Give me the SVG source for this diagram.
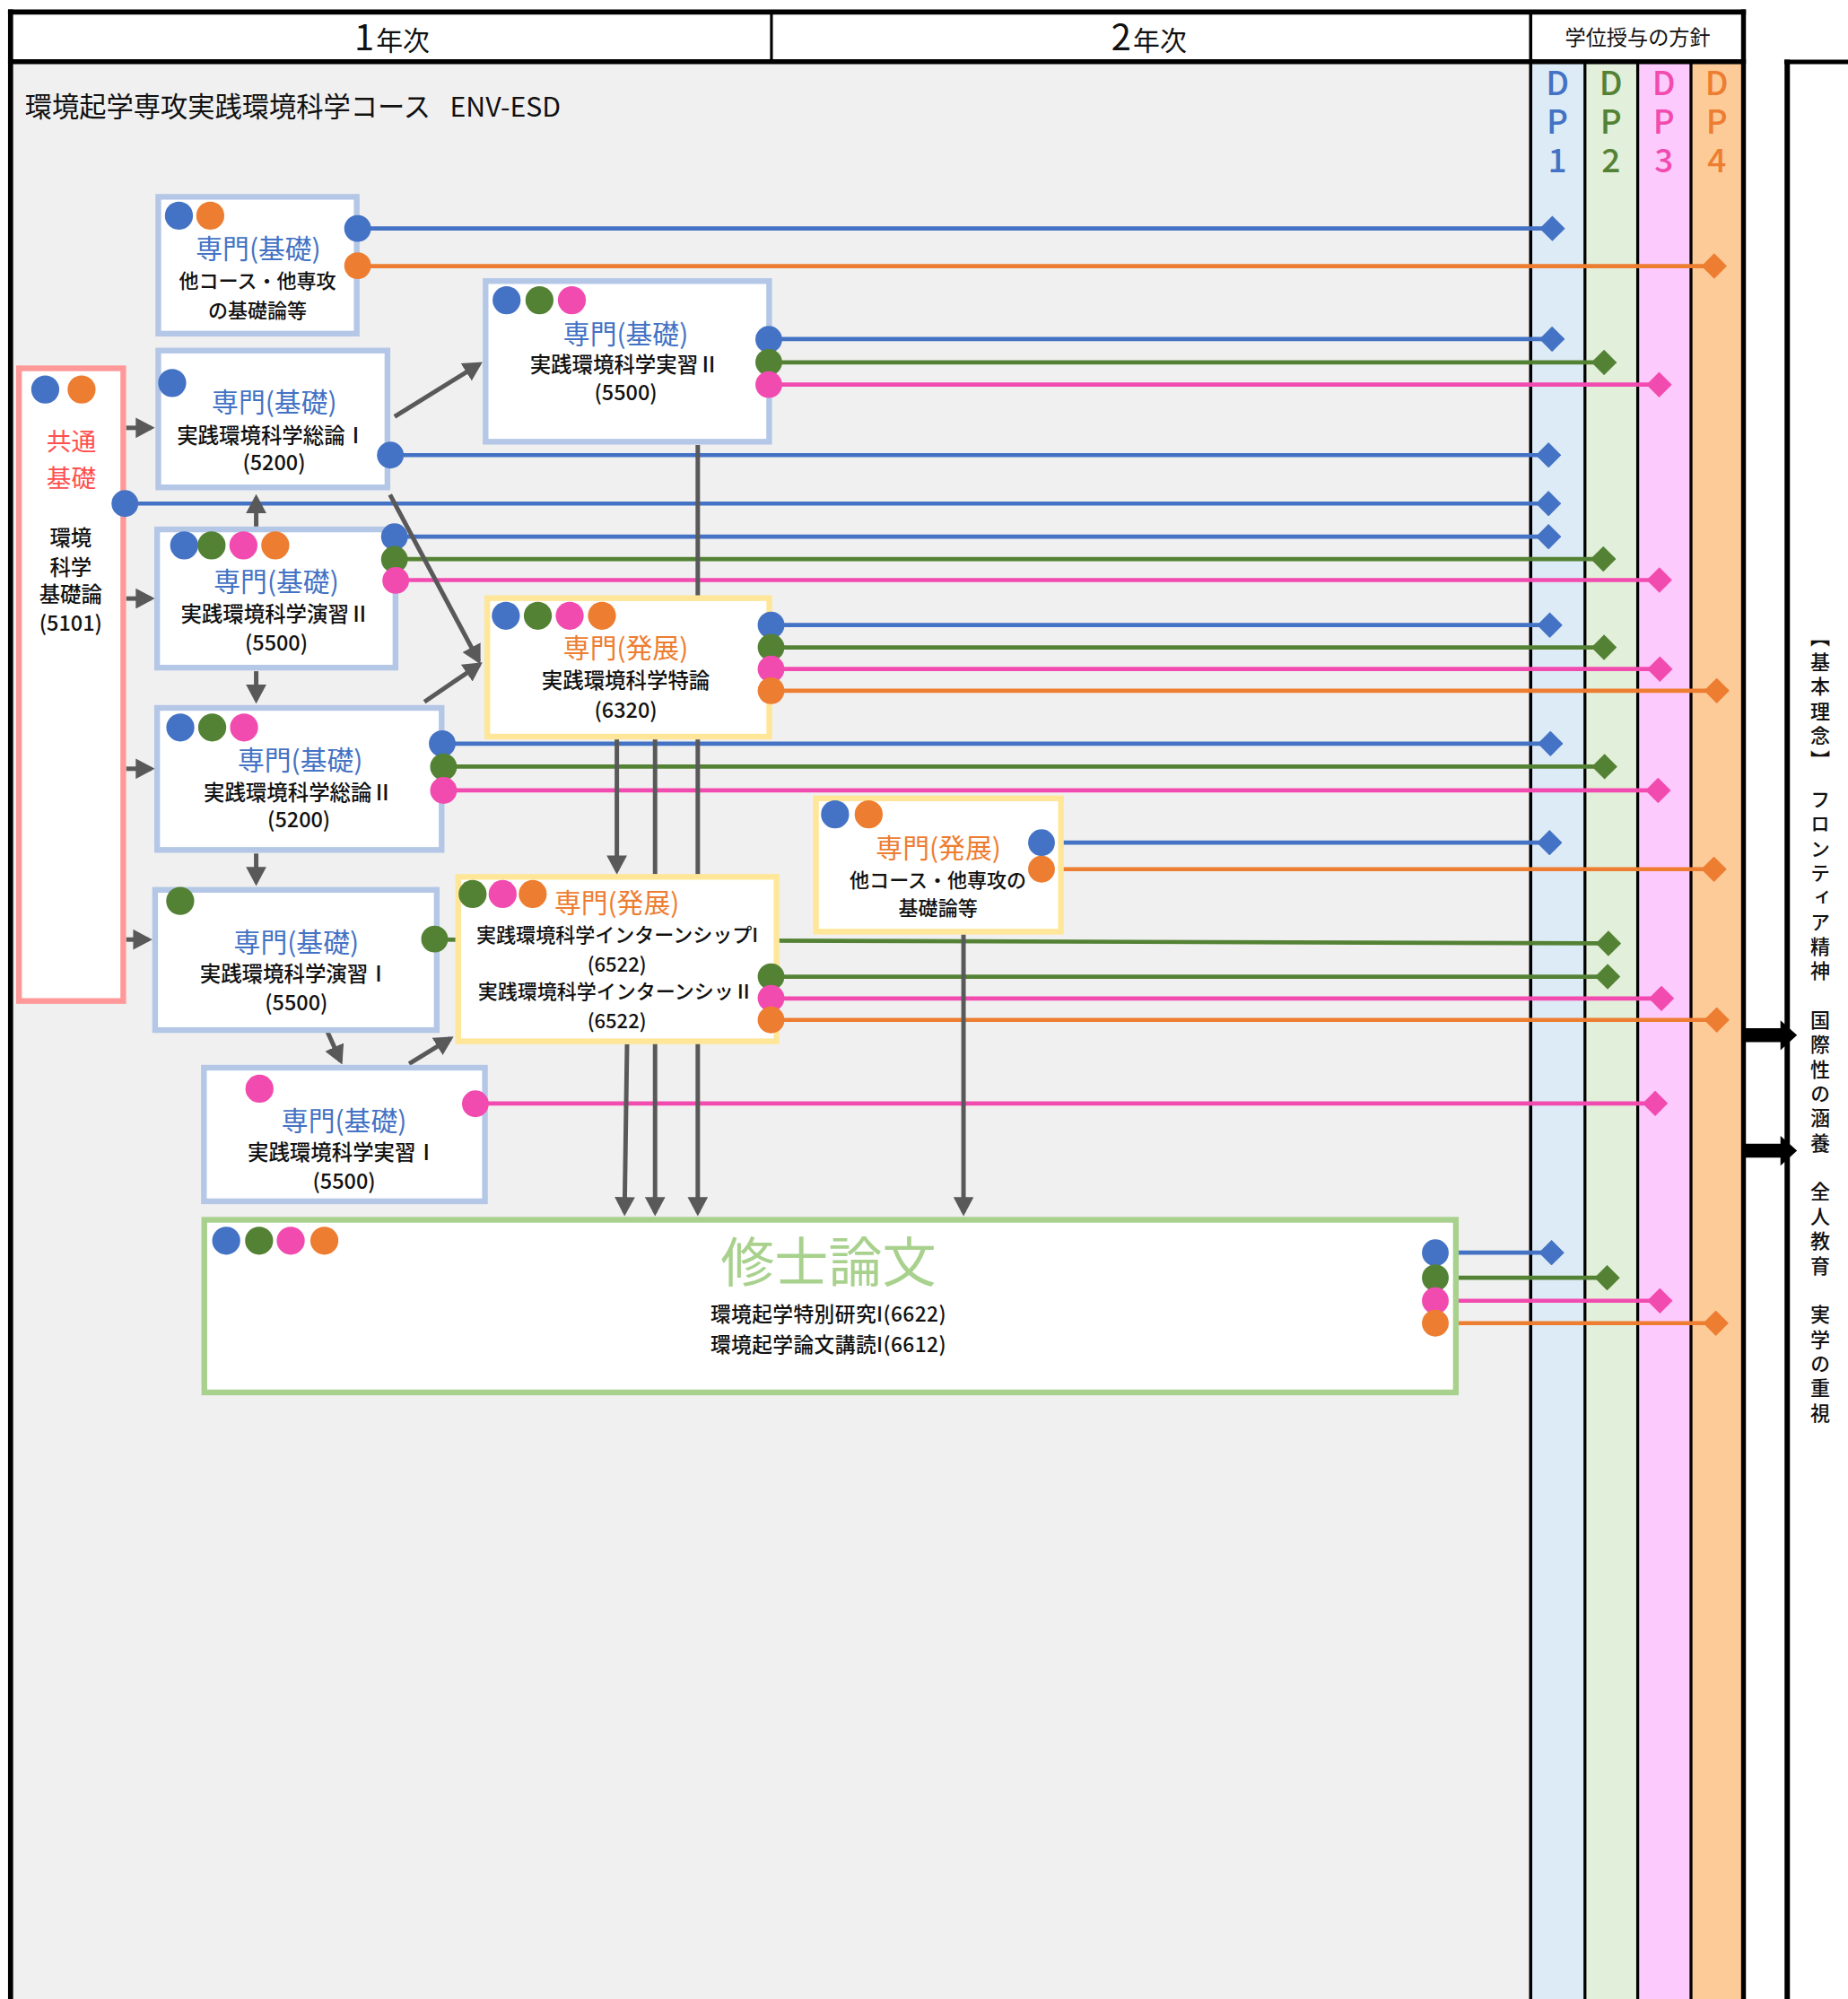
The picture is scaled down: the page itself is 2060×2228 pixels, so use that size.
<svg xmlns="http://www.w3.org/2000/svg" width="2060" height="2228" viewBox="0 0 2060 2228">
<style>
text{font-family:'Noto Sans CJK JP','Noto Sans',sans-serif;fill:#111}
.c{text-anchor:middle;dominant-baseline:central}
.t{font-size:21px}
.tb{fill:#4472c4}
.to{fill:#ed7d31}
.s{font-size:16.5px;font-weight:500}
.s2{font-size:15.5px;font-weight:500}
.bx{fill:#fff;stroke-width:4.5}
.kb{stroke:#b4c7e7}.ky{stroke:#ffe699}.kg{stroke:#a9d18e}.kr{stroke:#ff9999}
.B{fill:#4472c4}.G{fill:#548235}.P{fill:#f24bb0}.O{fill:#ed7d31}
.ln{stroke-width:3.3;fill:none}
.lb{stroke:#4472c4;marker-end:url(#dB)}
.lg{stroke:#548235;marker-end:url(#dG)}
.lp{stroke:#f24bb0;marker-end:url(#dP)}
.lo{stroke:#ed7d31;marker-end:url(#dO)}
.ar{stroke:#595959;stroke-width:3.5;fill:none;marker-end:url(#ah)}
.fr{stroke:#000;fill:none}
.dp{font-size:26px;font-weight:500;letter-spacing:4px;writing-mode:vertical-rl;text-orientation:upright}
</style>
<defs>
<marker id="dB" markerUnits="userSpaceOnUse" markerWidth="20" markerHeight="20" refX="10" refY="10" orient="auto"><path d="M0,10 L10,0 L20,10 L10,20 z" fill="#4472c4"/></marker>
<marker id="dG" markerUnits="userSpaceOnUse" markerWidth="20" markerHeight="20" refX="10" refY="10" orient="auto"><path d="M0,10 L10,0 L20,10 L10,20 z" fill="#548235"/></marker>
<marker id="dP" markerUnits="userSpaceOnUse" markerWidth="20" markerHeight="20" refX="10" refY="10" orient="auto"><path d="M0,10 L10,0 L20,10 L10,20 z" fill="#f24bb0"/></marker>
<marker id="dO" markerUnits="userSpaceOnUse" markerWidth="20" markerHeight="20" refX="10" refY="10" orient="auto"><path d="M0,10 L10,0 L20,10 L10,20 z" fill="#ed7d31"/></marker>
<marker id="ah" markerUnits="userSpaceOnUse" markerWidth="15" markerHeight="16" refX="12" refY="8" orient="auto"><path d="M0,0 L15,8 L0,16 z" fill="#595959"/></marker>
</defs>
<rect width="2060" height="2228" fill="#fff"/>
<g transform="scale(1.4207,1.4209)">
<g id="frame">
<rect x="8.3" y="48" width="1192.7" height="1530" fill="#f0f0f0"/>
<rect x="1201" y="48" width="42" height="1530" fill="#ddebf7"/>
<rect x="1243" y="48" width="42" height="1530" fill="#e2efda"/>
<rect x="1285" y="48" width="41.5" height="1530" fill="#fdcafd"/>
<rect x="1326.5" y="48" width="41.5" height="1530" fill="#fdcb98"/>
<rect x="8.3" y="9.4" width="1359.7" height="39" fill="#fff"/>
<line class="fr" x1="605.3" y1="9" x2="605.3" y2="48" stroke-width="2.2"/>
<line class="fr" x1="1201" y1="9" x2="1201" y2="1578" stroke-width="2.5"/>
<line class="fr" x1="1243.6" y1="48" x2="1243.6" y2="1578" stroke-width="2.3"/>
<line class="fr" x1="1285" y1="48" x2="1285" y2="1578" stroke-width="2.3"/>
<line class="fr" x1="1326.8" y1="48" x2="1326.8" y2="1578" stroke-width="2.3"/>
<line class="fr" x1="1368" y1="7.4" x2="1368" y2="1578" stroke-width="3.8"/>
<line class="fr" x1="8.3" y1="7.4" x2="8.3" y2="1578" stroke-width="4"/>
<line class="fr" x1="6.3" y1="9.4" x2="1369.9" y2="9.4" stroke-width="4"/>
<line class="fr" x1="6.3" y1="48.4" x2="1369.9" y2="48.4" stroke-width="4"/>
<rect x="1402.3" y="48.6" width="60" height="1530" fill="#fff"/>
<line class="fr" x1="1400" y1="48.6" x2="1460" y2="48.6" stroke-width="3.6"/>
<line class="fr" x1="1402.3" y1="46.8" x2="1402.3" y2="1578" stroke-width="4.2"/>
<text x="278" y="39.5"><tspan font-size="28">1</tspan><tspan font-size="21" dx="1.5">年次</tspan></text>
<text x="872" y="39.5"><tspan font-size="28">2</tspan><tspan font-size="21" dx="1.5">年次</tspan></text>
<text class="c" x="1285" y="28.5" font-size="16.3">学位授与の方針</text>
<text x="19.5" y="82" font-size="21.3" dominant-baseline="central">環境起学専攻実践環境科学コース<tspan x="353">ENV-ESD</tspan></text>
<text class="dp" x="1222" y="52" style="fill:#4472c4">DP1</text>
<text class="dp" x="1264" y="52" style="fill:#548235">DP2</text>
<text class="dp" x="1305.5" y="52" style="fill:#f24bb0">DP3</text>
<text class="dp" x="1347" y="52" style="fill:#ed7d31">DP4</text>
<text x="1428.2" y="492" font-size="15.5" font-weight="500" letter-spacing="3.75" style="writing-mode:vertical-rl">【基本理念】　フロンティア精神　国際性の涵養　全人教育　実学の重視</text>
</g>
<g id="connectors">
<line class="ln lb" x1="280.6" y1="179.2" x2="1218" y2="179.2"/>
<line class="ln lb" x1="603.2" y1="266" x2="1217.8" y2="266"/>
<line class="ln lb" x1="306.3" y1="357" x2="1215" y2="357"/>
<line class="ln lb" x1="98" y1="395" x2="1215" y2="395"/>
<line class="ln lb" x1="309.5" y1="421" x2="1215" y2="421"/>
<line class="ln lb" x1="605" y1="490.3" x2="1216" y2="490.3"/>
<line class="ln lb" x1="347" y1="583.3" x2="1216.5" y2="583.3"/>
<line class="ln lb" x1="817.2" y1="661" x2="1215.8" y2="661"/>
<line class="ln lb" x1="1126.2" y1="982.6" x2="1217.4" y2="982.6"/>
<line class="ln lg" x1="603.2" y1="284.3" x2="1258.6" y2="284.3"/>
<line class="ln lg" x1="309.5" y1="438.5" x2="1258" y2="438.5"/>
<line class="ln lg" x1="605" y1="507.8" x2="1258.6" y2="507.8"/>
<line class="ln lg" x1="348" y1="601.3" x2="1259" y2="601.3"/>
<line class="ln lg" x1="341" y1="737" x2="1262" y2="740"/>
<line class="ln lg" x1="605" y1="766.1" x2="1261.4" y2="766.1"/>
<line class="ln lg" x1="1126.2" y1="1002.3" x2="1261" y2="1002.3"/>
<line class="ln lp" x1="603.2" y1="301.7" x2="1301.8" y2="301.7"/>
<line class="ln lp" x1="310.5" y1="455" x2="1302" y2="455"/>
<line class="ln lp" x1="605" y1="524.8" x2="1302.4" y2="524.8"/>
<line class="ln lp" x1="348" y1="620" x2="1301" y2="620"/>
<line class="ln lp" x1="605" y1="783.2" x2="1303.6" y2="783.2"/>
<line class="ln lp" x1="373" y1="865.5" x2="1298.7" y2="865.5"/>
<line class="ln lp" x1="1126.2" y1="1020.3" x2="1302.4" y2="1020.3"/>
<line class="ln lo" x1="280.6" y1="208.7" x2="1345" y2="208.7"/>
<line class="ln lo" x1="605" y1="541.8" x2="1347" y2="541.8"/>
<line class="ln lo" x1="817.2" y1="681.8" x2="1344.8" y2="681.8"/>
<line class="ln lo" x1="605" y1="800" x2="1347" y2="800"/>
<line class="ln lo" x1="1126.2" y1="1037.9" x2="1346.3" y2="1037.9"/>
<line class="ar" x1="99" y1="335.6" x2="118.5" y2="335.6"/>
<line class="ar" x1="99" y1="469.5" x2="118.5" y2="469.5"/>
<line class="ar" x1="99" y1="603" x2="118.5" y2="603"/>
<line class="ar" x1="99" y1="737" x2="116.5" y2="737"/>
<line class="ar" x1="201" y1="413" x2="201" y2="390.5"/>
<line class="ar" x1="201" y1="526.5" x2="201" y2="549"/>
<line class="ar" x1="201" y1="669.5" x2="201" y2="692"/>
<line class="ar" x1="309.6" y1="326.8" x2="376.05" y2="285.6"/>
<line class="ar" x1="306" y1="388" x2="375.6" y2="518.4"/>
<line class="ar" x1="333" y1="550.5" x2="376.1" y2="521.2"/>
<line class="ar" x1="257" y1="809.5" x2="267.3" y2="832.3"/>
<line class="ar" x1="321" y1="834.5" x2="353.4" y2="814.6"/>
<line class="ar" x1="484" y1="580" x2="484" y2="683"/>
<line class="ar" x1="492" y1="819" x2="490.05" y2="951"/>
<line class="ar" x1="514" y1="580" x2="514" y2="951"/>
<line class="ar" x1="547.5" y1="349" x2="547.5" y2="951"/>
<line class="ar" x1="756" y1="733" x2="756" y2="951"/>
<path d="M1369,806.6 H1397 V800.3 L1410,812 L1397,823.7 V817.4 H1369 z" fill="#000"/>
<path d="M1369,897.2 H1397 V890.9 L1410,902.6 L1397,914.3 V908 H1369 z" fill="#000"/>
</g>
<g id="n_common">
<rect class="bx kr" x="14.9" y="288.9" width="81.8" height="496.3"/>
<circle class="B" cx="35.5" cy="305.5" r="11"/><circle class="O" cx="64" cy="305.5" r="11"/>
<text class="c" x="56" y="345" font-size="19.5" style="fill:#ff4f4f">共通</text>
<text class="c" x="56" y="373.6" font-size="19.5" style="fill:#ff4f4f">基礎</text>
<text class="c s" x="55.5" y="421">環境</text>
<text class="c s" x="55.5" y="444">科学</text>
<text class="c s" x="55.5" y="465.5">基礎論</text>
<text class="c s" x="55.5" y="487.5">(5101)</text>
<circle class="B" cx="98" cy="395" r="10.5"/>
</g>
<g id="n_other1">
<rect class="bx kb" x="124.2" y="154.4" width="155.7" height="107.3"/>
<circle class="B" cx="140.4" cy="169.2" r="11"/><circle class="O" cx="165" cy="169.2" r="11"/>
<text class="c t tb" x="202.7" y="193.6">専門(基礎)</text>
<text class="c s2" x="202" y="219.2">他コース・他専攻</text>
<text class="c s2" x="202" y="241.8">の基礎論等</text>
<circle class="B" cx="280.6" cy="179.2" r="10.5"/><circle class="O" cx="280.6" cy="208.4" r="10.5"/>
</g>
<g id="n_sogo1">
<rect class="bx kb" x="124.2" y="275" width="179.8" height="107.3"/>
<circle class="B" cx="135.1" cy="300.4" r="11"/>
<text class="c t tb" x="215.3" y="314.2">専門(基礎)</text>
<text class="c s" x="213" y="340.6">実践環境科学総論Ⅰ</text>
<text class="c s" x="215" y="361.9">(5200)</text>
<circle class="B" cx="306.3" cy="357" r="10.5"/>
</g>
<g id="n_enshu2">
<rect class="bx kb" x="123.3" y="415.3" width="187" height="108.4"/>
<circle class="B" cx="144.5" cy="427.8" r="11"/><circle class="G" cx="166" cy="427.8" r="11"/><circle class="P" cx="191" cy="427.8" r="11"/><circle class="O" cx="216" cy="427.8" r="11"/>
<text class="c t tb" x="216.8" y="454.7">専門(基礎)</text>
<text class="c s" x="216" y="480.4">実践環境科学演習Ⅱ</text>
<text class="c s" x="216.8" y="503">(5500)</text>
<circle class="B" cx="309.5" cy="421" r="10.5"/><circle class="G" cx="309.5" cy="438.8" r="10.5"/><circle class="P" cx="310.5" cy="455.3" r="10.5"/>
</g>
<g id="n_sogo2">
<rect class="bx kb" x="123.3" y="555.3" width="223.2" height="111.4"/>
<circle class="B" cx="141.5" cy="570.6" r="11"/><circle class="G" cx="166.5" cy="570.6" r="11"/><circle class="P" cx="191.5" cy="570.6" r="11"/>
<text class="c t tb" x="235.6" y="594.7">専門(基礎)</text>
<text class="c s" x="234" y="620.4">実践環境科学総論Ⅱ</text>
<text class="c s" x="234.5" y="642">(5200)</text>
<circle class="B" cx="347" cy="583.3" r="10.5"/><circle class="G" cx="348" cy="601.5" r="10.5"/><circle class="P" cx="348" cy="620" r="10.5"/>
</g>
<g id="n_enshu1">
<rect class="bx kb" x="121.7" y="698" width="221" height="110"/>
<circle class="G" cx="141.4" cy="706.7" r="11"/>
<text class="c t tb" x="232.5" y="737.6">専門(基礎)</text>
<text class="c s" x="231" y="763">実践環境科学演習Ⅰ</text>
<text class="c s" x="232.5" y="785.5">(5500)</text>
<circle class="G" cx="341" cy="736.6" r="10.5"/>
</g>
<g id="n_jisshu1">
<rect class="bx kb" x="160" y="837.5" width="220.5" height="104.8"/>
<circle class="P" cx="203.6" cy="854" r="11"/>
<text class="c t tb" x="270" y="877.8">専門(基礎)</text>
<text class="c s" x="268.5" y="903">実践環境科学実習Ⅰ</text>
<text class="c s" x="270" y="925.5">(5500)</text>
<circle class="P" cx="373" cy="865.8" r="10.5"/>
</g>
<g id="n_jisshu2">
<rect class="bx kb" x="381" y="220.5" width="222.5" height="126"/>
<circle class="B" cx="397.5" cy="235.5" r="11"/><circle class="G" cx="423.3" cy="235.5" r="11"/><circle class="P" cx="448.7" cy="235.5" r="11"/>
<text class="c t tb" x="491" y="260.5">専門(基礎)</text>
<text class="c s" x="490" y="285">実践環境科学実習Ⅱ</text>
<text class="c s" x="491" y="307">(5500)</text>
<circle class="B" cx="603.2" cy="266.2" r="10.5"/><circle class="G" cx="603.2" cy="284.2" r="10.5"/><circle class="P" cx="603.2" cy="301.7" r="10.5"/>
</g>
<g id="n_tokuron">
<rect class="bx ky" x="382.3" y="469.2" width="221.3" height="108.6"/>
<circle class="B" cx="396.9" cy="483" r="11"/><circle class="G" cx="422" cy="483" r="11"/><circle class="P" cx="447" cy="483" r="11"/><circle class="O" cx="472.3" cy="483" r="11"/>
<text class="c t to" x="491" y="507">専門(発展)</text>
<text class="c s" x="491" y="533">実践環境科学特論</text>
<text class="c s" x="491" y="555.8">(6320)</text>
<circle class="B" cx="605" cy="490.3" r="10.5"/><circle class="G" cx="605" cy="507.8" r="10.5"/><circle class="P" cx="605" cy="524.8" r="10.5"/><circle class="O" cx="605" cy="541.8" r="10.5"/>
</g>
<g id="n_intern">
<rect class="bx ky" x="359.5" y="687.8" width="249.8" height="129"/>
<circle class="G" cx="370.8" cy="701.3" r="11"/><circle class="P" cx="394.4" cy="701.3" r="11"/><circle class="O" cx="418" cy="701.3" r="11"/>
<text class="c t to" x="484" y="706.6">専門(発展)</text>
<text class="c s2" x="484.3" y="732.2">実践環境科学インターンシップI</text>
<text class="c s2" x="484" y="755">(6522)</text>
<text class="c s2" x="483" y="776.6">実践環境科学インターンシッⅡ</text>
<text class="c s2" x="484" y="799.6">(6522)</text>
<circle class="G" cx="605" cy="766.1" r="10.5"/><circle class="P" cx="605" cy="783" r="10.5"/><circle class="O" cx="605" cy="800" r="10.5"/>
</g>
<g id="n_other2">
<rect class="bx ky" x="640.2" y="626.2" width="192.2" height="104.6"/>
<circle class="B" cx="655.2" cy="638.8" r="11"/><circle class="O" cx="681.6" cy="638.8" r="11"/>
<text class="c t to" x="736.3" y="663.5">専門(発展)</text>
<text class="c s2" x="736" y="689">他コース・他専攻の</text>
<text class="c s2" x="736" y="710.7">基礎論等</text>
<circle class="B" cx="817.2" cy="661" r="10.5"/><circle class="O" cx="817.2" cy="681.8" r="10.5"/>
</g>
<g id="n_thesis">
<rect class="bx kg" x="160.3" y="956.8" width="982" height="135.4"/>
<circle class="B" cx="177.5" cy="973.2" r="11"/><circle class="G" cx="203.3" cy="973.2" r="11"/><circle class="P" cx="228.1" cy="973.2" r="11"/><circle class="O" cx="254.5" cy="973.2" r="11"/>
<text class="c" x="650" y="987.2" font-size="42.3" style="fill:#a9d18e">修士論文</text>
<text class="c" x="650" y="1030.2" font-size="16" font-weight="500" letter-spacing="0.3">環境起学特別研究I(6622)</text>
<text class="c" x="650" y="1053.7" font-size="16" font-weight="500" letter-spacing="0.3">環境起学論文講読I(6612)</text>
<circle class="B" cx="1126.2" cy="982.6" r="10.5"/><circle class="G" cx="1126.2" cy="1002.3" r="10.5"/><circle class="P" cx="1126.2" cy="1020.3" r="10.5"/><circle class="O" cx="1126.2" cy="1037.9" r="10.5"/>
</g>
</g>
</svg>
